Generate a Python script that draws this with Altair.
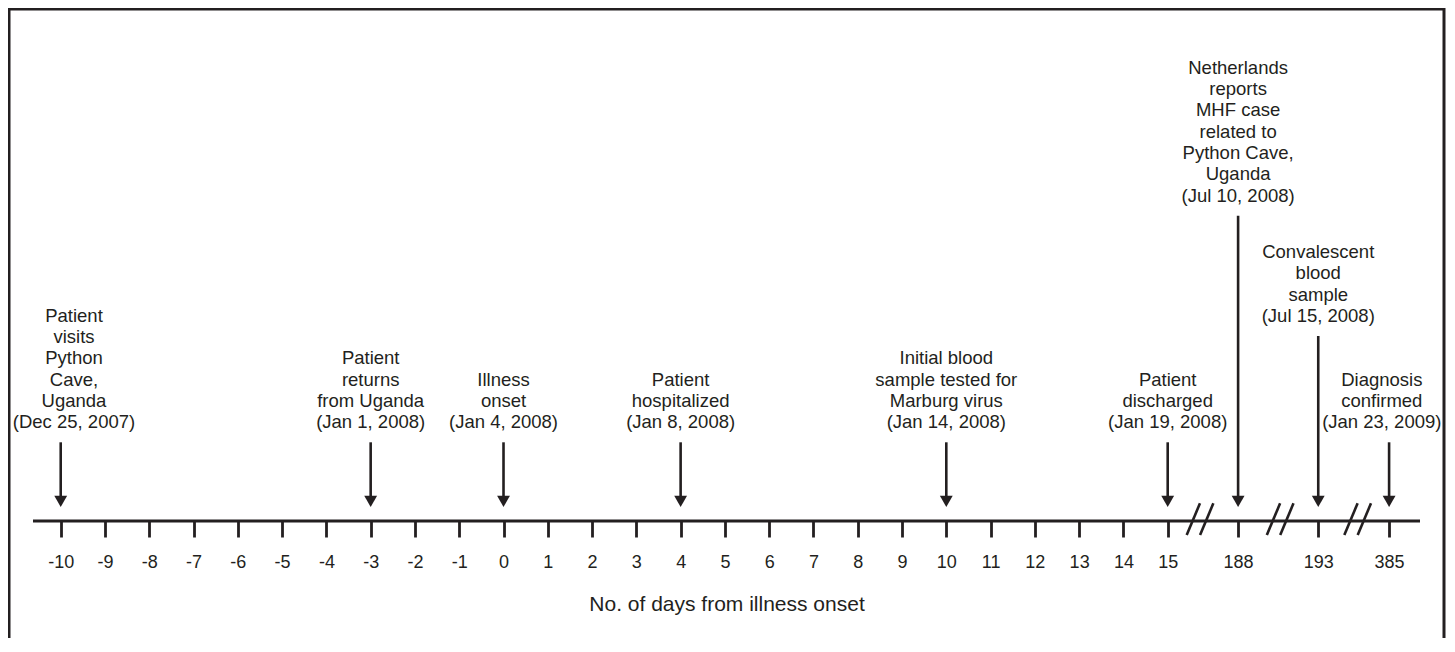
import altair as alt
import pandas as pd

INK = "#231f20"
FONT = "Liberation Sans"

# ---- axis ticks (day values) and their slot on the broken axis ----
tick_days = list(range(-10, 16)) + [188, 193, 385]
tick_labels = [str(d) for d in tick_days]
tick_slots = list(range(-10, 16)) + [16.59, 18.40, 20.00]

# axis breaks (between 15|188, 188|193, 193|385)
break_slots = [15.73, 17.54, 19.29]

# timeline extent (slots)
line_start = [-10.626]
line_end = [20.698]

# ---- events ----
event_days = [-10, -3, 0, 4, 10, 15, 188, 193, 385]
event_labels = [
    "Patient\nvisits\nPython\nCave,\nUganda\n(Dec 25, 2007)",
    "Patient\nreturns\nfrom Uganda\n(Jan 1, 2008)",
    "Illness\nonset\n(Jan 4, 2008)",
    "Patient\nhospitalized\n(Jan 8, 2008)",
    "Initial blood\nsample tested for\nMarburg virus\n(Jan 14, 2008)",
    "Patient\ndischarged\n(Jan 19, 2008)",
    "Netherlands\nreports\nMHF case\nrelated to\nPython Cave,\nUganda\n(Jul 10, 2008)",
    "Convalescent\nblood\nsample\n(Jul 15, 2008)",
    "Diagnosis\nconfirmed\n(Jan 23, 2009)",
]
event_tier = [0, 0, 0, 0, 0, 0, 2, 1, 0]
label_shift = [0.30, 0, 0, 0, 0, 0, 0, 0, -0.165]

# ---- layout helpers (pixels above the timeline) ----
tier_baseline = {0: 92.7, 1: 199.0, 2: 319.3}
LINE_H = 21.3
slot_of = dict(zip(tick_days, tick_slots))

ev = pd.DataFrame({
    "day": event_days,
    "label": event_labels,
    "tier": event_tier,
    "shift": label_shift,
})
ev["x"] = ev["day"].map(slot_of)
ev["lx"] = ev["x"] + ev["shift"]
ev["nlines"] = ev["label"].str.count("\n")
ev["last"] = ev["tier"].map(tier_baseline)
ev["ly"] = ev["last"] + ev["nlines"] * LINE_H
ev["ytop"] = ev["last"] - 14
ev["ybot"] = 20.0
ev["yhead"] = 19.6

line_df = pd.DataFrame({"x": line_start, "x2": line_end, "y": [0.0]})

sl_rows = []
for b in break_slots:
    for off in (-0.151, 0.151):
        sl_rows.append({"x": b + off - 0.15, "x2": b + off + 0.15, "y": -14.0, "y2": 17.7})
sl_df = pd.DataFrame(sl_rows)

label_expr = " : ".join(
    f"abs(datum.value - ({s})) < 0.05 ? '{l}'" for s, l in zip(tick_slots, tick_labels)
) + " : ''"

xscale = alt.Scale(domain=[-11.168, 21.240], nice=False, zero=False)
yscale = alt.Scale(domain=[-188, 512], nice=False, zero=False)

xaxis = alt.Axis(
    values=tick_slots,
    labelExpr=label_expr,
    domain=False,
    grid=False,
    ticks=True,
    tickSize=16,
    tickWidth=2.8,
    tickColor=INK,
    labelFont=FONT,
    labelFontSize=18,
    labelColor=INK,
    labelPadding=16,
    labelOverlap=False,
    labelFlush=False,
    title="No. of days from illness onset",
    titleFont=FONT,
    titleFontSize=21,
    titleFontWeight="normal",
    titleColor=INK,
    titlePadding=22,
    offset=-188,
)

X = lambda f: alt.X(f, type="quantitative", scale=xscale, axis=xaxis)
Y = lambda f: alt.Y(f, type="quantitative", scale=yscale, axis=None)

timeline = alt.Chart(line_df).mark_rule(color=INK, strokeWidth=3).encode(
    x=X("x"), x2="x2", y=Y("y")
)

slashes = alt.Chart(sl_df).mark_rule(color=INK, strokeWidth=2.6).encode(
    x=X("x"), x2="x2", y=Y("y"), y2="y2"
)

shafts = alt.Chart(ev).mark_rule(color=INK, strokeWidth=2.6).encode(
    x=X("x"), y=Y("ybot"), y2="ytop"
)

heads = alt.Chart(ev).mark_point(
    shape="triangle-down", filled=True, size=165, color=INK, opacity=1, strokeWidth=0
).encode(x=X("x"), y=Y("yhead"))

labels = alt.Chart(ev).mark_text(
    font=FONT, fontSize=18.5, color=INK, align="center", baseline="alphabetic",
    lineBreak="\n", lineHeight=LINE_H,
).encode(x=X("lx"), y=Y("ly"), text="label:N")

chart = alt.layer(timeline, slashes, shafts, heads, labels).properties(
    width=1435,
    height=700,
    padding={"left": 1, "top": 1, "right": 3, "bottom": -71},
    autosize="none",
).configure_view(stroke=INK, strokeWidth=3)

chart.save("out.html", embed_options={"renderer": "svg", "actions": False})
